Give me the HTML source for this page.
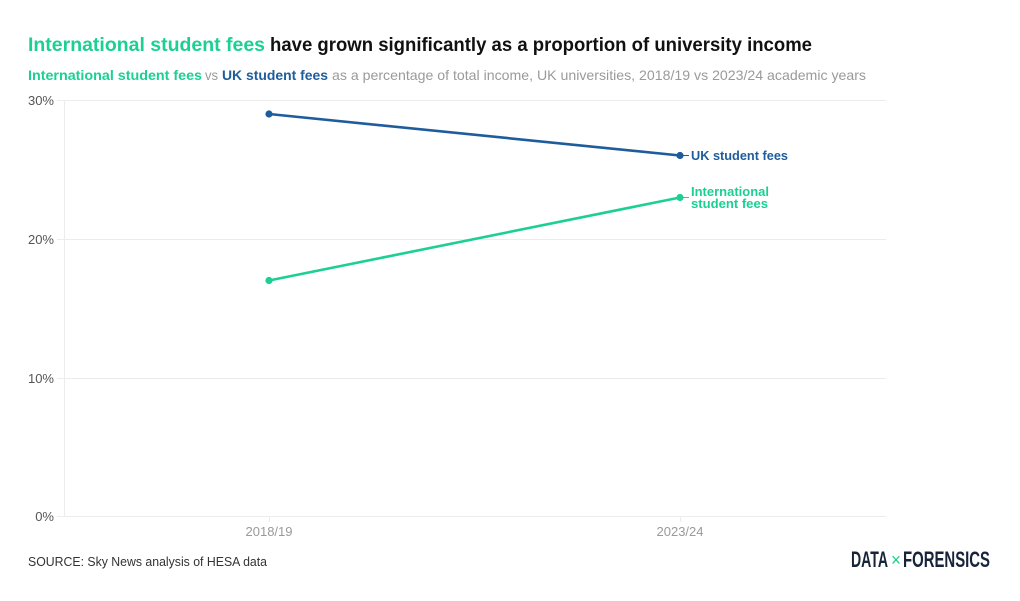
<!DOCTYPE html>
<html><head><meta charset="utf-8"><style>
html,body{margin:0;padding:0;background:#fff;}
svg{display:block;font-family:"Liberation Sans",sans-serif;}
</style></head><body>
<svg width="1020" height="601" viewBox="0 0 1020 601" xmlns="http://www.w3.org/2000/svg">
<rect width="1020" height="601" fill="#fff"/>
<!-- Title -->
<text x="28" y="51" font-size="19" font-weight="bold" fill="#111"><tspan fill="#1ccf93" textLength="237" lengthAdjust="spacingAndGlyphs">International student fees</tspan><tspan x="270" textLength="542" lengthAdjust="spacingAndGlyphs">have grown significantly as a proportion of university income</tspan></text>
<!-- Subtitle -->
<text y="80" font-size="14" fill="#9a9a9a"><tspan x="28" fill="#1ccf93" font-weight="bold" textLength="174" lengthAdjust="spacingAndGlyphs">International student fees</tspan><tspan x="205" textLength="13" lengthAdjust="spacingAndGlyphs">vs</tspan><tspan x="222" fill="#1e5c9c" font-weight="bold" textLength="106" lengthAdjust="spacingAndGlyphs">UK student fees</tspan><tspan x="332" textLength="534" lengthAdjust="spacingAndGlyphs">as a percentage of total income, UK universities, 2018/19 vs 2023/24 academic years</tspan></text>
<!-- grid -->
<g stroke="#ececec" stroke-width="1">
<line x1="57" y1="100.5" x2="886" y2="100.5"/>
<line x1="57" y1="239.5" x2="886" y2="239.5"/>
<line x1="57" y1="378.5" x2="886" y2="378.5"/>
<line x1="57" y1="516.5" x2="886" y2="516.5"/>
<line x1="64.5" y1="100" x2="64.5" y2="516"/>
<line x1="269.5" y1="516" x2="269.5" y2="522"/>
<line x1="680.5" y1="516" x2="680.5" y2="522"/>
</g>
<g font-size="13" fill="#555" text-anchor="end">
<text x="54" y="105">30%</text>
<text x="54" y="244">20%</text>
<text x="54" y="383">10%</text>
<text x="54" y="521">0%</text>
</g>
<g font-size="13" fill="#9a9a9a" text-anchor="middle">
<text x="269" y="536">2018/19</text>
<text x="680" y="536">2023/24</text>
</g>
<!-- series -->
<line x1="269" y1="114" x2="680" y2="155.5" stroke="#1e5c9c" stroke-width="2.6"/>
<circle cx="269" cy="114" r="3.6" fill="#1e5c9c"/>
<circle cx="680" cy="155.5" r="3.6" fill="#1e5c9c"/>
<line x1="269" y1="280.5" x2="680" y2="197.5" stroke="#1ccf93" stroke-width="2.6"/>
<circle cx="269" cy="280.5" r="3.6" fill="#1ccf93"/>
<circle cx="680" cy="197.5" r="3.6" fill="#1ccf93"/>
<line x1="683" y1="155.5" x2="689" y2="155.5" stroke="#1e5c9c" stroke-width="1"/>
<line x1="683" y1="197.5" x2="689" y2="197.5" stroke="#1ccf93" stroke-width="1"/>
<text x="691" y="160" font-size="12.5" font-weight="bold" fill="#1e5c9c" textLength="97" lengthAdjust="spacingAndGlyphs">UK student fees</text>
<text font-size="12.5" font-weight="bold" fill="#1ccf93"><tspan x="691" y="196" textLength="78" lengthAdjust="spacingAndGlyphs">International</tspan><tspan x="691" y="208" textLength="77" lengthAdjust="spacingAndGlyphs">student fees</tspan></text>
<!-- source -->
<text x="28" y="566" font-size="13" fill="#333" textLength="239" lengthAdjust="spacingAndGlyphs">SOURCE: Sky News analysis of HESA data</text>
<!-- logo -->
<text x="851" y="567" font-size="22" font-weight="bold" fill="#17243a" textLength="37" lengthAdjust="spacingAndGlyphs">DATA</text>
<text x="891" y="566" font-size="18" fill="#1ccf93" textLength="10" lengthAdjust="spacingAndGlyphs">×</text>
<text x="903" y="567" font-size="22" font-weight="bold" fill="#17243a" textLength="87" lengthAdjust="spacingAndGlyphs">FORENSICS</text>
</svg>
</body></html>
